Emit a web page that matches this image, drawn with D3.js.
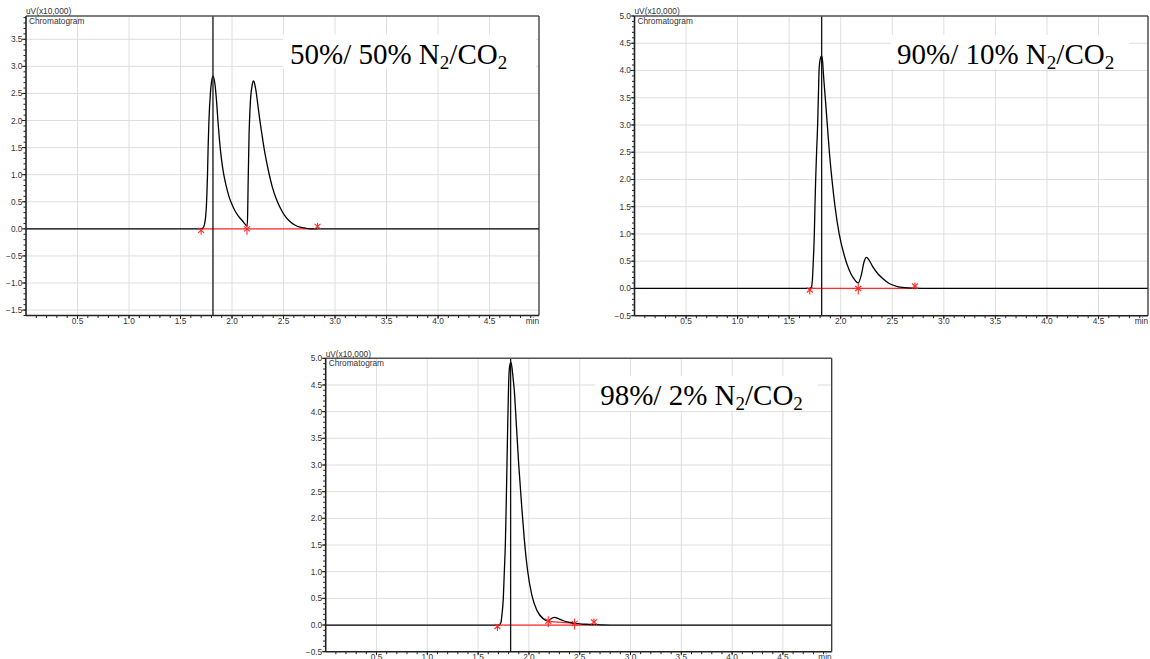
<!DOCTYPE html>
<html>
<head>
<meta charset="utf-8">
<script src="https://cdn.jsdelivr.net/npm/d3@7"></script>
<style>
  body { margin: 0; background: #fff; }
  svg { display: block; font-family: "Liberation Sans", Arial, sans-serif; }
</style>
</head>
<body>
<svg id="chart" width="1150" height="659"></svg>
<script>
// ---- Shared axis ticks ----
const timeTicks = [0.5, 1.0, 1.5, 2.0, 2.5, 3.0, 3.5, 4.0, 4.5];
const yTicksA = [-1.5, -1.0, -0.5, 0.0, 0.5, 1.0, 1.5, 2.0, 2.5, 3.0, 3.5];
const yTicksB = [-0.5, 0.0, 0.5, 1.0, 1.5, 2.0, 2.5, 3.0, 3.5, 4.0, 4.5, 5.0];

// ---- Run A: 50% / 50% N2/CO2 (signal in uV x10,000) ----
const labelA = ["50%/ 50% N", "2", "/CO", "2"];
const timeA = [0, 1.70, 1.72, 1.735, 1.745, 1.752, 1.757, 1.762, 1.768, 1.776, 1.79, 1.80, 1.815,
  1.835, 1.85, 1.865, 1.88, 1.90, 1.92, 1.945, 1.97, 2.00, 2.03, 2.06, 2.10, 2.13, 2.148,
  2.152, 2.156, 2.16, 2.165, 2.17, 2.18, 2.195, 2.209, 2.222, 2.235, 2.25, 2.267, 2.29, 2.31,
  2.335, 2.364, 2.39, 2.43, 2.47, 2.51, 2.56, 2.61, 2.66, 2.72, 2.80, 4.98];
const signalA = [0, 0, 0.02, 0.10, 0.25, 0.45, 0.70, 1.0, 1.5, 2.0, 2.5, 2.7, 2.82,
  2.66, 2.35, 1.95, 1.6, 1.25, 1.0, 0.78, 0.6, 0.45, 0.33, 0.24, 0.15, 0.08, 0.05,
  0.3, 0.8, 1.2, 1.7, 2.0, 2.4, 2.65, 2.73, 2.66, 2.52, 2.3, 2.05, 1.75, 1.5,
  1.24, 0.98, 0.78, 0.55, 0.38, 0.25, 0.14, 0.07, 0.03, 0.01, 0, 0];
const cursorA = 1.815;
const markerTimeA = [1.70, 2.145, 2.83];
const markerValueA = [0, 0, 0];
const markerKindA = ["start", "mid", "end"];
const baseFromA = [[1.70, 0]];
const baseToA = [[2.83, 0]];

// ---- Run B: 90% / 10% N2/CO2 ----
const labelB = ["90%/ 10% N", "2", "/CO", "2"];
const timeB = [0, 1.70, 1.715, 1.725, 1.734, 1.744, 1.75, 1.757, 1.766, 1.776, 1.783, 1.79, 1.80, 1.815,
  1.825, 1.83, 1.85, 1.87, 1.89, 1.915, 1.945, 1.985, 2.035, 2.08, 2.12, 2.17,
  2.20, 2.225, 2.25, 2.275, 2.31, 2.36, 2.41, 2.47, 2.54, 2.62, 2.72, 2.85, 4.98];
const signalB = [0, 0, 0.02, 0.15, 0.5, 1.0, 1.5, 2.0, 2.5, 3.0, 3.5, 4.0, 4.2, 4.27,
  4.15, 4.0, 3.5, 3.0, 2.5, 2.0, 1.5, 1.0, 0.6, 0.35, 0.2, 0.1,
  0.25, 0.48, 0.57, 0.52, 0.4, 0.27, 0.18, 0.09, 0.04, 0.015, 0.005, 0, 0];
const cursorB = 1.815;
const markerTimeB = [1.70, 2.17, 2.72];
const markerValueB = [0, 0, 0];
const markerKindB = ["start", "mid", "end"];
const baseFromB = [[1.70, 0]];
const baseToB = [[2.72, 0]];

// ---- Run C: 98% / 2% N2/CO2 ----
const labelC = ["98%/ 2% N", "2", "/CO", "2"];
const timeC = [0, 1.70, 1.718, 1.725, 1.735, 1.748, 1.758, 1.768, 1.776, 1.784, 1.79, 1.80, 1.81, 1.823,
  1.835, 1.845, 1.856, 1.875, 1.90, 1.93, 1.955, 1.985, 2.03, 2.08, 2.14, 2.19,
  2.22, 2.25, 2.29, 2.34, 2.40, 2.45, 2.55, 2.65, 2.80, 4.98];
const signalC = [0, 0, 0.02, 0.05, 0.2, 0.5, 1.0, 1.5, 2.2, 3.0, 3.6, 4.5, 4.85, 4.93,
  4.8, 4.62, 4.4, 3.8, 3.0, 2.2, 1.6, 1.05, 0.55, 0.27, 0.12, 0.08,
  0.12, 0.145, 0.12, 0.08, 0.05, 0.03, 0.015, 0.005, 0, 0];
const cursorC = 1.82;
const markerTimeC = [1.69, 2.19, 2.45, 2.64];
const markerValueC = [0, 0.07, 0.03, 0.01];
const markerKindC = ["start", "mid", "mid", "end"];
const baseFromC = [[1.69, 0], [2.19, 0.07]];
const baseToC = [[2.64, 0], [2.45, 0.03]];

// ---- Panel placement on the page ----
const panels = [
  { left: 26, top: 16, width: 513, height: 299.5, yDomain: [-1.6, 3.93], yTicks: yTicksA,
    time: timeA, signal: signalA, cursor: cursorA, label: labelA,
    mT: markerTimeA, mV: markerValueA, mK: markerKindA, bFrom: baseFromA, bTo: baseToA,
    labelX: 264, labelY: 47.5, padL: 7, padR: 29 },
  { left: 634.5, top: 16, width: 513.5, height: 299.7, yDomain: [-0.5, 5.0], yTicks: yTicksB,
    time: timeB, signal: signalB, cursor: cursorB, label: labelB,
    mT: markerTimeB, mV: markerValueB, mK: markerKindB, bFrom: baseFromB, bTo: baseToB,
    labelX: 262.5, labelY: 48, padL: 6, padR: 15 },
  { left: 325.7, top: 358.3, width: 506, height: 293.4, yDomain: [-0.5, 5.0], yTicks: yTicksB,
    time: timeC, signal: signalC, cursor: cursorC, label: labelC,
    mT: markerTimeC, mV: markerValueC, mK: markerKindC, bFrom: baseFromC, bTo: baseToC,
    labelX: 274.5, labelY: 47, padL: 5, padR: 15 }
];

const svg = d3.select("#chart");
const fmt = d3.format(".1f");
const red = "#ff2a2a";

panels.forEach(p => {
  const g = svg.append("g").attr("transform", `translate(${p.left},${p.top})`);
  const x = d3.scaleLinear().domain([0, 4.98]).range([0, p.width]);
  const y = d3.scaleLinear().domain(p.yDomain).range([p.height, 0]);

  // grid
  g.append("g").selectAll("line").data(timeTicks).join("line")
    .attr("x1", d => x(d)).attr("x2", d => x(d)).attr("y1", 0).attr("y2", p.height)
    .attr("stroke", "#dedede").attr("stroke-width", 1);
  g.append("g").selectAll("line").data(p.yTicks).join("line")
    .attr("x1", 0).attr("x2", p.width).attr("y1", d => y(d)).attr("y2", d => y(d))
    .attr("stroke", "#dedede").attr("stroke-width", 1);

  // composition label on a white box
  const label = g.append("text")
    .attr("x", p.labelX).attr("y", p.labelY)
    .attr("font-family", "'Liberation Serif', 'Times New Roman', serif")
    .attr("font-size", 29).attr("fill", "#000");
  p.label.forEach((s, i) => {
    const t = label.append("tspan").text(s);
    if (i % 2 === 1) t.attr("font-size", 19).attr("baseline-shift", "-5px");
  });
  const bb = label.node().getBBox();
  g.insert("rect", "text")
    .attr("x", bb.x - p.padL).attr("y", p.labelY - 29)
    .attr("width", bb.width + p.padL + p.padR).attr("height", 34)
    .attr("fill", "#fff");

  // integration baselines
  g.append("g").selectAll("line").data(p.bFrom).join("line")
    .attr("x1", d => x(d[0])).attr("y1", d => y(d[1]))
    .attr("x2", (d, i) => x(p.bTo[i][0])).attr("y2", (d, i) => y(p.bTo[i][1]))
    .attr("stroke", red).attr("stroke-width", 1.3);

  // chromatogram trace
  const pts = p.time.map((t, i) => [t, p.signal[i]]);
  g.append("path").datum(pts)
    .attr("d", d3.line().x(d => x(d[0])).y(d => y(d[1])).curve(d3.curveMonotoneX))
    .attr("fill", "none").attr("stroke", "#000").attr("stroke-width", 1.3);

  // peak start / end marks
  const mk = g.append("g").attr("stroke", red).attr("stroke-width", 1.1).attr("fill", "none");
  p.mT.forEach((t, i) => {
    const cx = x(t), cy = y(p.mV[i]);
    const kind = p.mK[i];
    let y1, y2, sy;
    if (kind === "start") { y1 = cy - 1; y2 = cy + 6; sy = cy + 1.5; }
    else if (kind === "end") { y1 = cy - 6; y2 = cy + 1; sy = cy - 2.5; }
    else { y1 = cy - 5; y2 = cy + 6; sy = cy; }
    mk.append("line").attr("x1", cx).attr("x2", cx).attr("y1", y1).attr("y2", y2);
    mk.append("line").attr("x1", cx - 3).attr("x2", cx + 3).attr("y1", sy - 2.5).attr("y2", sy + 2.5);
    mk.append("line").attr("x1", cx - 3).attr("x2", cx + 3).attr("y1", sy + 2.5).attr("y2", sy - 2.5);
  });

  // retention time cursor
  g.append("line").attr("x1", x(p.cursor)).attr("x2", x(p.cursor))
    .attr("y1", 0).attr("y2", p.height)
    .attr("stroke", "#111").attr("stroke-width", 1.3);

  // frame: top and right
  g.append("line").attr("x1", 0).attr("x2", p.width).attr("y1", 0).attr("y2", 0)
    .attr("stroke", "#555").attr("stroke-width", 1.5);
  g.append("line").attr("x1", p.width).attr("x2", p.width).attr("y1", 0).attr("y2", p.height)
    .attr("stroke", "#333").attr("stroke-width", 1.3);

  // left axis with minor ticks
  const yMinor = d3.range(Math.ceil(p.yDomain[0] * 10), Math.floor(p.yDomain[1] * 10) + 1).map(v => v / 10);
  const ya = g.append("g").attr("stroke", "#222");
  ya.selectAll("line.mi").data(yMinor).join("line").attr("class", "mi")
    .attr("x1", -2.5).attr("x2", 0).attr("y1", d => y(d)).attr("y2", d => y(d)).attr("stroke-width", 1);
  ya.selectAll("line.ma").data(p.yTicks).join("line").attr("class", "ma")
    .attr("x1", -4).attr("x2", 0).attr("y1", d => y(d)).attr("y2", d => y(d)).attr("stroke-width", 1);
  ya.append("line").attr("x1", 0).attr("x2", 0).attr("y1", 0).attr("y2", p.height).attr("stroke-width", 1.6);
  g.append("g").selectAll("text").data(p.yTicks).join("text")
    .attr("x", -3.5).attr("y", d => y(d) + 3).attr("text-anchor", "end")
    .attr("font-size", 8.3).attr("fill", "#333").text(d => fmt(d));

  // bottom axis with minor ticks
  const xMinor = d3.range(1, 50).map(v => v / 10);
  const xa = g.append("g").attr("stroke", "#222");
  xa.selectAll("line.mi").data(xMinor).join("line").attr("class", "mi")
    .attr("x1", d => x(d)).attr("x2", d => x(d)).attr("y1", p.height).attr("y2", p.height + 2.5).attr("stroke-width", 1);
  xa.selectAll("line.ma").data(timeTicks).join("line").attr("class", "ma")
    .attr("x1", d => x(d)).attr("x2", d => x(d)).attr("y1", p.height).attr("y2", p.height + 3.5).attr("stroke-width", 1);
  xa.append("line").attr("x1", 0).attr("x2", p.width).attr("y1", p.height).attr("y2", p.height).attr("stroke-width", 1.6);
  g.append("g").selectAll("text").data(timeTicks).join("text")
    .attr("x", d => x(d)).attr("y", p.height + 8.5).attr("text-anchor", "middle")
    .attr("font-size", 8.3).attr("fill", "#333").text(d => fmt(d));
  g.append("text").attr("x", p.width).attr("y", p.height + 8.5).attr("text-anchor", "end")
    .attr("font-size", 8.3).attr("fill", "#333").text("min");

  // unit and trace name
  g.append("text").attr("x", 0).attr("y", -1.8).attr("font-size", 8.3).attr("fill", "#333").text("uV(x10,000)");
  g.append("text").attr("x", 3).attr("y", 7.5).attr("font-size", 8.3).attr("fill", "#333").text("Chromatogram");
});
</script>
</body>
</html>
